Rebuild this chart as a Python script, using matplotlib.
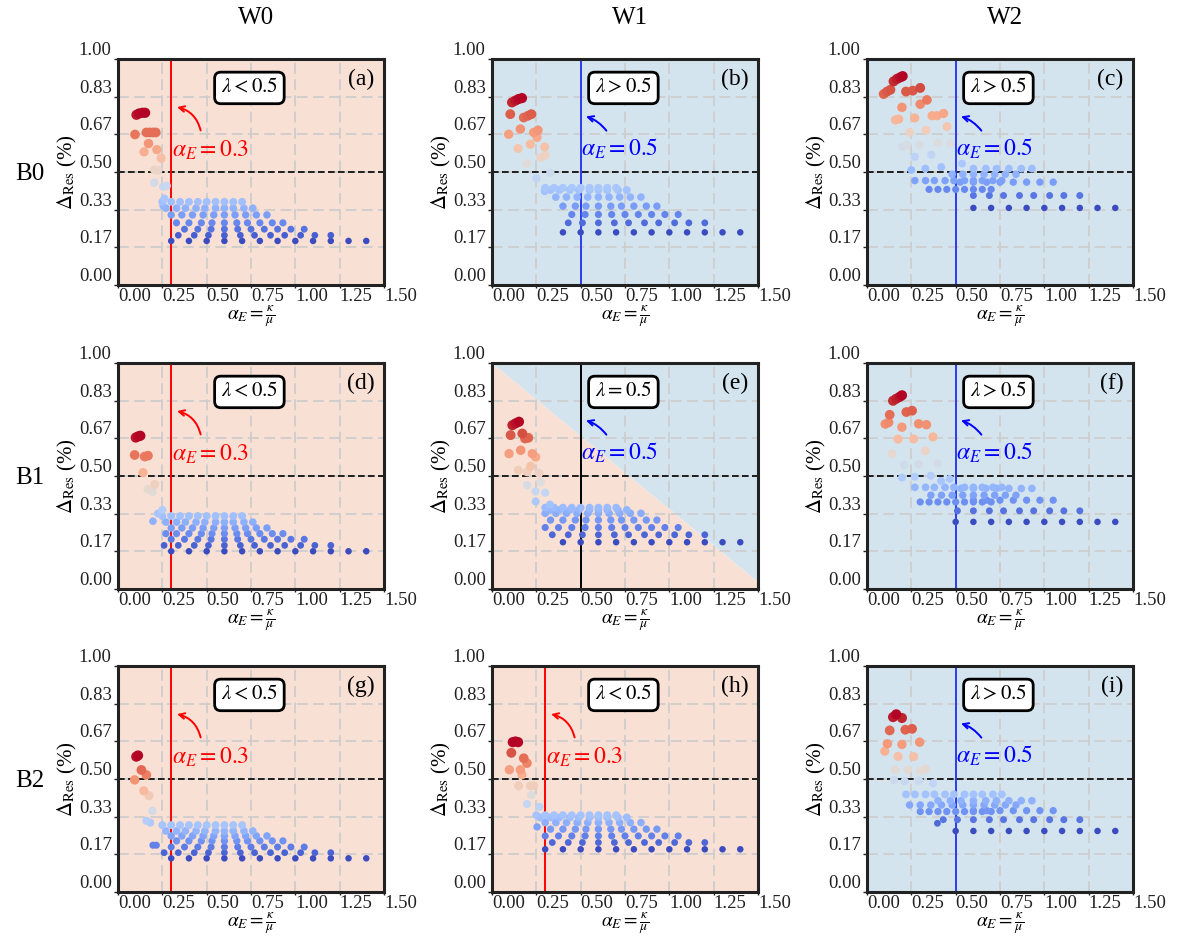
import numpy as np
import matplotlib
matplotlib.use("Agg")
import matplotlib.pyplot as plt
from matplotlib.colors import Normalize

plt.rcParams['font.family'] = 'serif'
plt.rcParams['font.serif'] = ['Liberation Serif', 'DejaVu Serif']
plt.rcParams['mathtext.fontset'] = 'stix'

# ---------------- data ----------------
col_titles = ["W0", "W1", "W2"]
row_titles = ["B0", "B1", "B2"]
panel_tags = ["(a)", "(b)", "(c)", "(d)", "(e)", "(f)", "(g)", "(h)", "(i)"]
lambda_text = [r"$\lambda<0.5$", r"$\lambda>0.5$", r"$\lambda>0.5$",
               r"$\lambda<0.5$", r"$\lambda=0.5$", r"$\lambda>0.5$",
               r"$\lambda<0.5$", r"$\lambda<0.5$", r"$\lambda>0.5$"]
alpha_E = [0.3, 0.5, 0.5, 0.3, 0.5, 0.5, 0.3, 0.3, 0.5]
x_ticks = [0.00, 0.25, 0.50, 0.75, 1.00, 1.25, 1.50]
y_ticks = [0.0, 1/6, 2/6, 3/6, 4/6, 5/6, 1.0]

# x positions of the dots of each family (row) of the fan
row_x = [
    [0.30, 0.40, 0.50, 0.60, 0.70, 0.80, 0.90, 1.00, 1.10, 1.20, 1.30, 1.40],
    [0.26, 0.34, 0.43, 0.51, 0.60, 0.69, 0.77, 0.86, 0.94, 1.03, 1.11, 1.20],
    [0.30, 0.375, 0.45, 0.525, 0.60, 0.675, 0.75, 0.825, 0.90, 0.975, 1.05],
    [0.27, 0.33, 0.40, 0.47, 0.53, 0.60, 0.67, 0.73, 0.80, 0.87, 0.93],
    [0.24, 0.30, 0.36, 0.42, 0.48, 0.54, 0.60, 0.66, 0.72, 0.78, 0.84],
    [0.22, 0.27, 0.33, 0.38, 0.44, 0.49, 0.55, 0.60, 0.65, 0.71, 0.76],
    [0.20, 0.25, 0.30, 0.35, 0.40, 0.45, 0.50, 0.55, 0.60, 0.65, 0.70],
]

# per panel: level of each row and index of its first visible dot
row_y = [
    [0.195, 0.220, 0.247, 0.275, 0.310, 0.340, 0.368],   # a
    [0.233, 0.275, 0.312, 0.349, 0.389, 0.420, 0.430],   # b
    [0.341, 0.396, 0.455, 0.515, 0.490, 0.462, 0.423],   # c
    [0.167, 0.193, 0.220, 0.245, 0.270, 0.296, 0.323],   # d
    [0.207, 0.240, 0.272, 0.305, 0.335, 0.350, 0.360],   # e
    [0.297, 0.346, 0.393, 0.445, 0.415, 0.450, 0.385],   # f
    [0.149, 0.174, 0.199, 0.226, 0.248, 0.270, 0.296],   # g
    [0.189, 0.219, 0.248, 0.278, 0.307, 0.330, 0.340],   # h
    [0.270, 0.320, 0.360, 0.404, 0.385, 0.432, 0.356],   # i
]
row_start = [
    [0, 1, 1, 1, 1, 1, 1],
    [1, 2, 2, 2, 2, 2, 2],
    [3, 4, 3, 5, 4, 1, 3],
    [0, 0, 0, 0, 1, 1, 1],
    [1, 1, 0, 1, 1, 2, 2],
    [2, 3, 4, 4, 2, 1, 2],
    [0, 0, 0, 1, 1, 1, 1],
    [0, 1, 0, 1, 1, 1, 1],
    [2, 2, 4, 2, 0, 0, 2],
]

# remaining (mostly small alpha_E) dots of each panel
extra_x = [
    [0.205, 0.255, 0.275, 0.205, 0.226, 0.243, 0.147, 0.219, 0.172, 0.096, 0.160, 0.179,
     0.198, 0.213, 0.104, 0.119, 0.138, 0.153, 0.262, 0.255],
    [0.250, 0.329, 0.197, 0.273, 0.300, 0.147, 0.216, 0.297, 0.094, 0.160, 0.235, 0.259,
     0.254, 0.103, 0.179, 0.203, 0.222, 0.113, 0.132, 0.150, 0.169, 0.297],
    [0.250, 0.329, 0.419, 0.536, 0.269, 0.363, 0.201, 0.226, 0.295, 0.400, 0.470, 0.241,
     0.333, 0.451, 0.160, 0.179, 0.269, 0.367, 0.395, 0.432, 0.197, 0.300, 0.338, 0.094,
     0.113, 0.132, 0.220, 0.258, 0.300, 0.150, 0.169, 0.188, 0.201],
    [0.197, 0.225, 0.250, 0.169, 0.194, 0.207, 0.141, 0.094, 0.150, 0.169, 0.100, 0.113,
     0.126],
    [0.246, 0.327, 0.199, 0.246, 0.300, 0.274, 0.148, 0.199, 0.218, 0.265, 0.096, 0.162,
     0.227, 0.246, 0.105, 0.171, 0.186, 0.205, 0.115, 0.133, 0.152],
    [0.197, 0.269, 0.359, 0.418, 0.466, 0.209, 0.291, 0.400, 0.141, 0.329, 0.175, 0.263,
     0.372, 0.103, 0.122, 0.197, 0.291, 0.335, 0.128, 0.222, 0.254, 0.147, 0.165, 0.184,
     0.197],
    [0.197, 0.216, 0.160, 0.182, 0.194, 0.145, 0.175, 0.094, 0.132, 0.160, 0.103, 0.113],
    [0.254, 0.197, 0.222, 0.267, 0.150, 0.216, 0.235, 0.098, 0.160, 0.169, 0.109, 0.179,
     0.197, 0.117, 0.132, 0.147],
    [0.397, 0.152, 0.212, 0.293, 0.372, 0.160, 0.231, 0.297, 0.331, 0.175, 0.263, 0.100,
     0.115, 0.197, 0.297, 0.128, 0.216, 0.254, 0.147, 0.165, 0.197],
]
extra_y = [
    [0.453, 0.435, 0.439, 0.510, 0.507, 0.561, 0.589, 0.599, 0.626, 0.666, 0.675, 0.675,
     0.675, 0.675, 0.753, 0.759, 0.762, 0.762, 0.383, 0.350],
    [0.472, 0.497, 0.537, 0.564, 0.574, 0.604, 0.623, 0.611, 0.667, 0.690, 0.675, 0.685,
     0.653, 0.756, 0.741, 0.749, 0.756, 0.808, 0.816, 0.823, 0.827, 0.415],
    [0.509, 0.515, 0.522, 0.537, 0.567, 0.576, 0.611, 0.620, 0.620, 0.630, 0.626, 0.675,
     0.685, 0.701, 0.730, 0.734, 0.739, 0.749, 0.749, 0.759, 0.786, 0.800, 0.819, 0.845,
     0.856, 0.864, 0.856, 0.860, 0.872, 0.901, 0.912, 0.919, 0.924],
    [0.300, 0.334, 0.350, 0.441, 0.430, 0.463, 0.515, 0.593, 0.586, 0.590, 0.670, 0.675,
     0.678],
    [0.387, 0.374, 0.459, 0.432, 0.426, 0.473, 0.525, 0.518, 0.543, 0.513, 0.599, 0.614,
     0.599, 0.584, 0.681, 0.688, 0.666, 0.669, 0.725, 0.733, 0.740],
    [0.493, 0.497, 0.501, 0.478, 0.487, 0.549, 0.552, 0.556, 0.598, 0.611, 0.663, 0.664,
     0.673, 0.730, 0.737, 0.716, 0.731, 0.727, 0.771, 0.783, 0.789, 0.833, 0.842, 0.850,
     0.857],
    [0.207, 0.207, 0.315, 0.307, 0.359, 0.448, 0.426, 0.496, 0.540, 0.518, 0.599, 0.604],
    [0.288, 0.389, 0.430, 0.377, 0.470, 0.470, 0.470, 0.541, 0.541, 0.519, 0.616, 0.592,
     0.570, 0.663, 0.666, 0.663],
    [0.304, 0.496, 0.490, 0.493, 0.481, 0.541, 0.541, 0.537, 0.544, 0.600, 0.599, 0.623,
     0.656, 0.653, 0.663, 0.715, 0.718, 0.722, 0.774, 0.786, 0.770],
]

# background regime of each panel: 'low' (lambda<0.5), 'high' (lambda>0.5), 'split'
regime = ["low", "high", "high", "low", "split", "high", "low", "low", "high"]

# ---------------- styling ----------------
PEACH = "#f8e0d4"
LBLUE = "#d3e4ef"
W, H = 1177, 938
fig = plt.figure(figsize=(W / 100, H / 100), dpi=100)

col_left = [118, 492, 867]
row_top = [59, 363, 666]
ax_w, ax_h = 266, 226

cmap = plt.get_cmap("coolwarm")

for p in range(9):
    r, c = divmod(p, 3)
    ax = fig.add_axes([col_left[c] / W, 1 - (row_top[r] + ax_h) / H, ax_w / W, ax_h / H])
    ax.set_xlim(0, 1.5)
    ax.set_ylim(0, 1)

    if regime[p] == "low":
        ax.set_facecolor(PEACH)
    elif regime[p] == "high":
        ax.set_facecolor(LBLUE)
    else:
        ax.set_facecolor("white")
        ax.fill([0, 0, 1.5, 1.5], [0, 1, 0.03, 0], color=PEACH, lw=0, zorder=0.2)
        ax.fill([0, 1.5, 1.5], [1, 1, 0.03], color=LBLUE, lw=0, zorder=0.2)

    ax.set_axisbelow(True)
    ax.grid(True, color="#cdcdcd", lw=1.3, ls=(0, (6, 3)))

    # collect points
    xs, ys = [], []
    for k in range(7):
        for xv in row_x[k][row_start[p][k]:]:
            xs.append(xv)
            ys.append(row_y[p][k])
    xs += extra_x[p]
    ys += extra_y[p]
    xs = np.array(xs)
    ys = np.array(ys)
    order = np.argsort(ys)
    xs, ys = xs[order], ys[order]
    norm = Normalize(vmin=ys.min(), vmax=ys.max())
    nv = norm(ys)
    ax.scatter(xs, ys, c=cmap(nv), s=22 + 32 * nv, lw=0, zorder=3)

    ax.axhline(0.5, color="black", lw=1.2, ls=(0, (4, 2)), zorder=2.5)

    if alpha_E[p] < 0.4:
        lc, tc = "red", "red"
        head, tail = (0.333, 0.787), (0.466, 0.684)
        tx, ty = 0.305, 0.598
        rad = 0.3
    else:
        lc = "black" if regime[p] == "split" else "#2b3cf0"
        tc = "blue"
        head, tail = (0.530, 0.746), (0.645, 0.683)
        tx, ty = 0.502, 0.604
        rad = 0.15
    ax.axvline(alpha_E[p], color=lc, lw=1.4, zorder=2.6)
    ax.annotate("", xy=head, xytext=tail,
                arrowprops=dict(arrowstyle="->", color=tc, lw=1.4,
                                shrinkA=0, shrinkB=0,
                                connectionstyle=f"arc3,rad={rad}"), zorder=4)
    ax.text(tx, ty, r"$\alpha_E=%s$" % alpha_E[p], color=tc, fontsize=17,
            ha="left", va="center", zorder=4)

    ax.text(0.494, 0.872, lambda_text[p], transform=ax.transAxes, fontsize=15,
            ha="center", va="center", zorder=5,
            bbox=dict(boxstyle="round,pad=0.3,rounding_size=0.3", fc="white",
                      ec="black", lw=2))
    ax.text(0.965, 0.955, panel_tags[p], transform=ax.transAxes, fontsize=17,
            ha="right", va="top", zorder=5)

    ax.set_xticks(x_ticks)
    ax.set_xticklabels(["%.2f" % v for v in x_ticks])
    ax.set_yticks(y_ticks)
    ax.set_yticklabels(["%.2f" % v for v in y_ticks])
    for lab in ax.get_xticklabels():
        lab.set_ha("left")
    for lab in ax.get_yticklabels():
        lab.set_va("bottom")
    ax.tick_params(direction="out", length=3, width=1, pad=1.5, labelsize=13.5,
                   colors="#222222")
    ax.tick_params(axis="x", pad=0, length=2)
    for sp in ax.spines.values():
        sp.set_linewidth(2.2)
        sp.set_color("#222222")
        sp.set_zorder(6)

    ax.set_xlabel(r"$\alpha_E=\frac{\kappa}{\mu}$", fontsize=14, labelpad=-1)
    ax.set_ylabel(r"$\Delta_{\mathrm{Res}}$ (%)", fontsize=15, labelpad=0)

for c in range(3):
    fig.text((col_left[c] + ax_w / 2 + 5) / W, 1 - 18 / H, col_titles[c],
             fontsize=18, ha="center", va="center")
for r in range(3):
    fig.text(30 / W, 1 - (row_top[r] + 115) / H, row_titles[r],
             fontsize=18, ha="center", va="center")

fig.savefig("out.png", dpi=100)
